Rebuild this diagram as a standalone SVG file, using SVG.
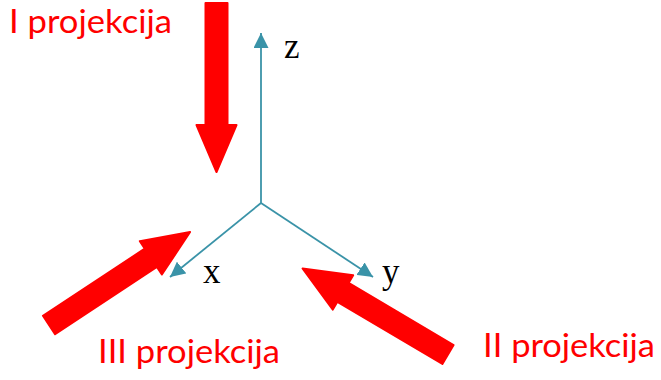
<svg xmlns="http://www.w3.org/2000/svg" xmlns:xlink="http://www.w3.org/1999/xlink" width="661" height="380" viewBox="0 0 661 380">
<style>
.big{fill:#ff0000;stroke:#ff0000;stroke-width:2;stroke-linejoin:round}
.axis{stroke:#3a93a8;stroke-width:1.8;fill:none}
.lbl{font-family:"Lato","Liberation Sans",sans-serif;font-size:33px;fill:#ff0000}
.ax{font-family:"Liberation Serif",serif;font-size:35px;fill:#000}
</style>
<defs>
<path id="bigArrow" d="M0,-11 L122,-11 L122,-20 L169,0 L122,20 L122,11 L0,11 Z"/>
<marker id="tip" viewBox="0 0 15 15" markerWidth="15" markerHeight="15" refX="15" refY="7.5" orient="auto" markerUnits="userSpaceOnUse">
<path d="M0,0 L15,7.5 L0,15 Z" fill="#3a93a8"/>
</marker>
</defs>
<g id="connectors">
<line class="axis" x1="261" y1="203" x2="261" y2="33" marker-end="url(#tip)"/>
<line class="axis" x1="261" y1="203" x2="170" y2="277" marker-end="url(#tip)"/>
<line class="axis" x1="261" y1="203" x2="373" y2="277" marker-end="url(#tip)"/>
</g>
<g id="axis-labels">
<text class="ax" x="284" y="58">z</text>
<text class="ax" x="203" y="283">x</text>
<text class="ax" x="382" y="283">y</text>
</g>
<g id="proj1">
<use xlink:href="#bigArrow" class="big" transform="translate(216.5,3) rotate(90)"/>
<text class="lbl" x="9" y="33" textLength="163" lengthAdjust="spacingAndGlyphs">I projekcija</text>
</g>
<g id="proj2">
<use xlink:href="#bigArrow" class="big" transform="translate(448,354.5) rotate(-149.4)"/>
<text class="lbl" x="483" y="357" textLength="172" lengthAdjust="spacingAndGlyphs">II projekcija</text>
</g>
<g id="proj3">
<use xlink:href="#bigArrow" class="big" transform="translate(49,325) rotate(-33.4)"/>
<text class="lbl" x="98" y="363" textLength="182" lengthAdjust="spacingAndGlyphs">III projekcija</text>
</g>
</svg>
